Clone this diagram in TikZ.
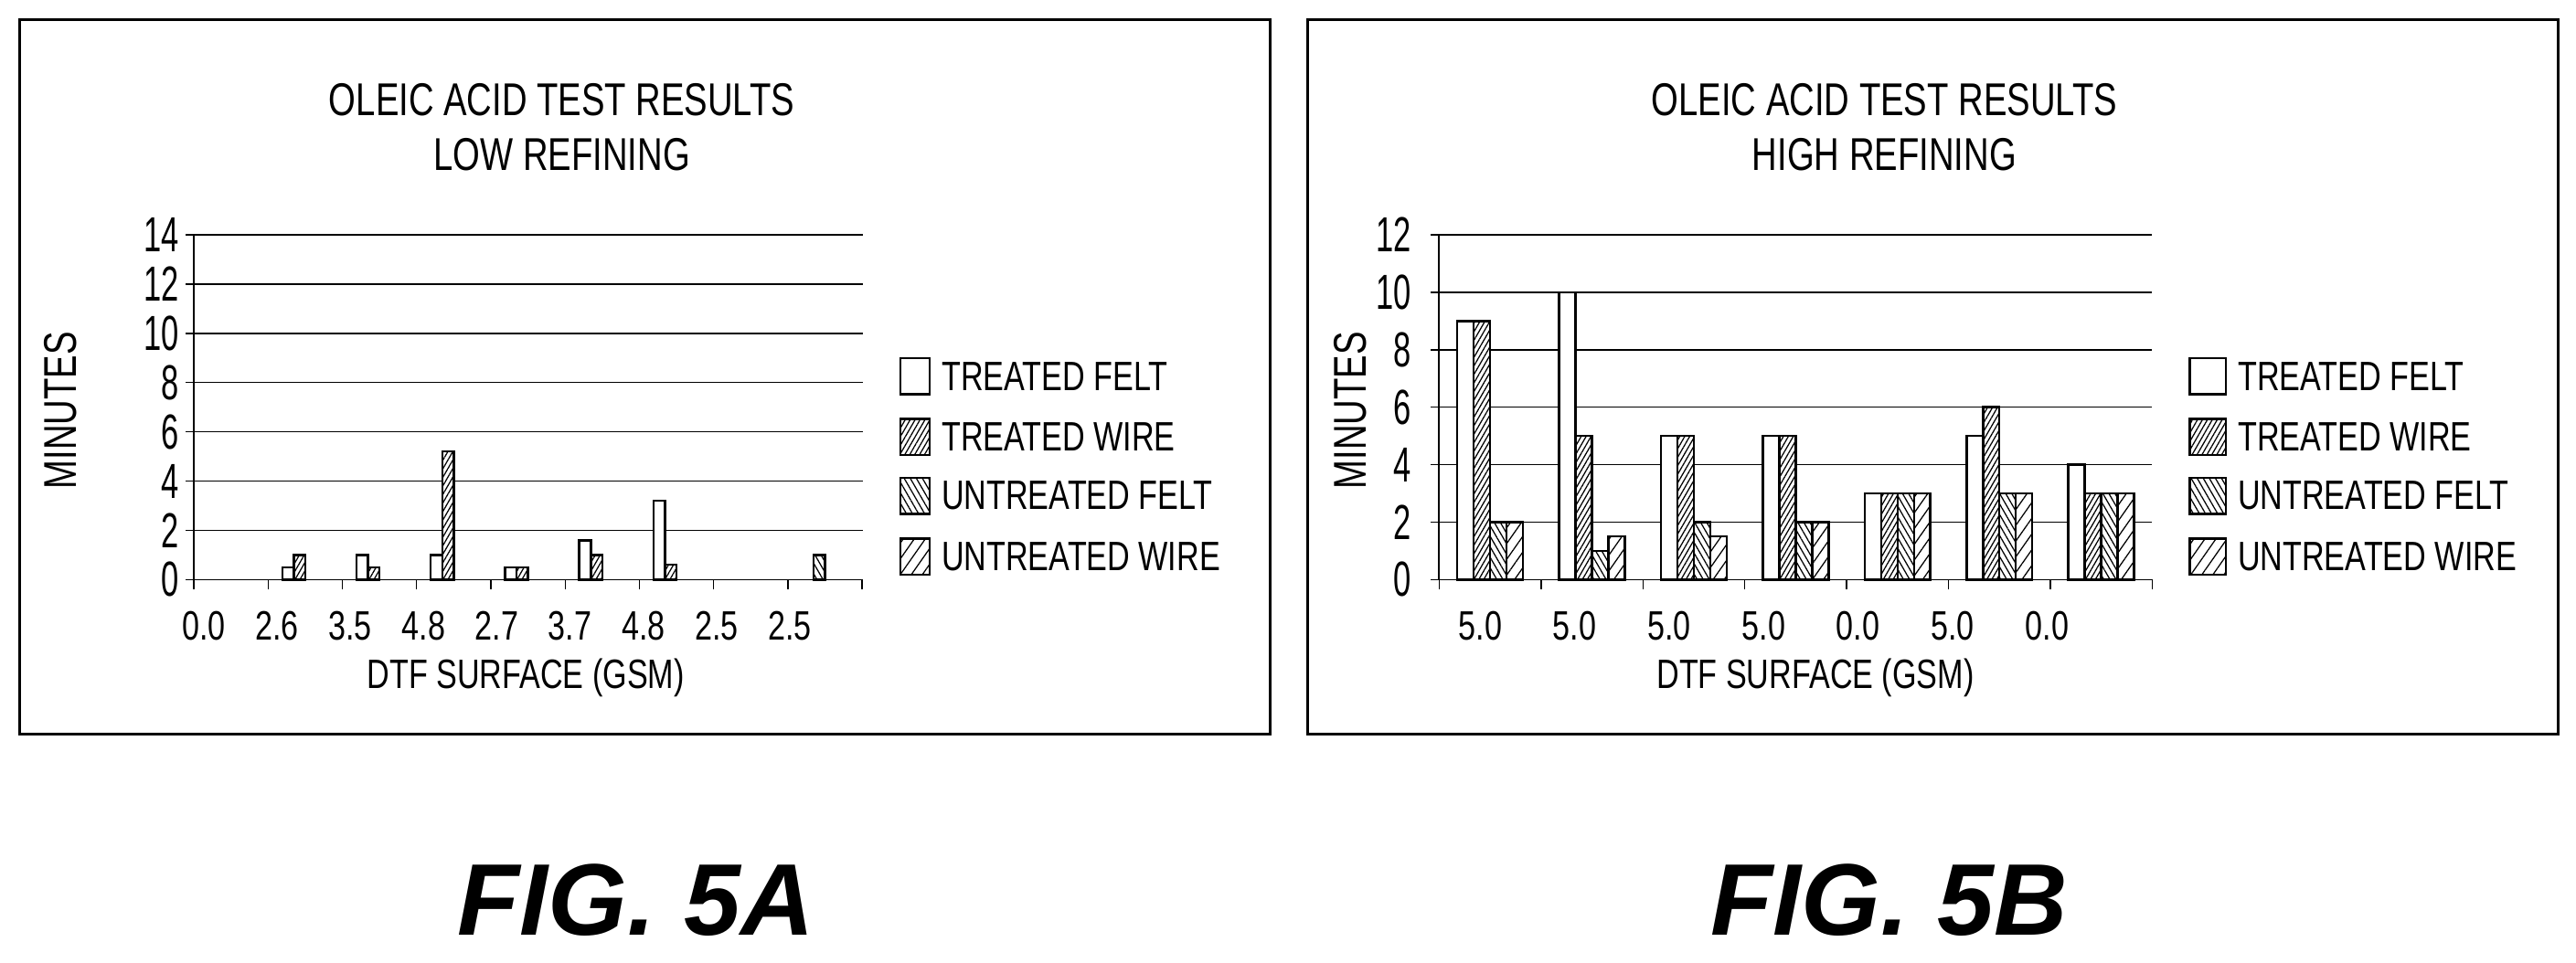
\documentclass[tikz,border=0pt]{standalone}
\usepackage{fontspec}
\setmainfont{Liberation Sans}
\newfontfamily\narrowf{Liberation Sans}[FakeStretch=0.76]
\newfontfamily\tickf{Liberation Sans}[FakeStretch=0.64]
\usetikzlibrary{patterns.meta}
\tikzset{
 panel/.style={draw,line width=1.6pt},
 grid/.style={line width=0.8pt},
 bar/.style={draw,line width=1.4pt,fill=white},
 tw/.style={bar,postaction={pattern={Lines[angle=60,distance=2.6pt,line width=0.7pt]}}},
 uf/.style={bar,postaction={pattern={Lines[angle=-60,distance=3.2pt,line width=0.7pt]}}},
 uw/.style={bar,postaction={pattern={Lines[angle=55,distance=5.5pt,line width=0.7pt]}}},
 txt/.style={font=\narrowf\fontsize{25}{26}\selectfont,inner sep=0pt},
 ttl/.style={font=\narrowf\fontsize{28}{28}\selectfont,inner sep=0pt},
 ylab/.style={font=\narrowf\fontsize{28}{28}\selectfont,inner sep=0pt,rotate=90},
 tick/.style={font=\tickf\fontsize{30}{30}\selectfont,inner sep=0pt,anchor=east},
 fig/.style={font=\bfseries\itshape\fontsize{62}{62}\selectfont,inner sep=0pt}
}
\begin{document}
\begin{tikzpicture}[x=1pt,y=-1pt]
\useasboundingbox (0,0) rectangle (1568,586);
\draw[panel] (12,12) rectangle (773,447);
\draw[panel] (796,12) rectangle (1557,447);
% ---------- left chart
\node[ttl] (tA1) at (342,61) {OLEIC ACID TEST RESULTS};
\node[ttl] (tA2) at (342,94) {LOW REFINING};
\foreach \v in {0,2,...,14}{
  \draw[grid] (113,353-15*\v) -- (525,353-15*\v);
  \node[tick] at (109,353-15*\v) {\v};}
\draw[line width=1pt] (118,143) -- (118,353);
\foreach \k in {0,...,9}{\draw[line width=0.8pt] (118+45.2*\k,353) -- (118+45.2*\k,359);}
\node[ylab] (mA) at (37,250) {MINUTES};
\foreach \l [count=\k from 0] in {0.0,2.6,3.5,4.8,2.7,3.7,4.8,2.5,2.5}{
  \node[txt] at (124+44.6*\k,381) {\l};}
\node[txt] (xA) at (320,413) {DTF SURFACE (GSM)};
\foreach \g/\s/\v in {1/0/0.5,1/1/1.0,2/0/1.0,2/1/0.5,3/0/1.0,3/1/5.2,4/0/0.5,4/1/0.5,5/0/1.6,5/1/1.0,6/0/3.2,6/1/0.6}{
  \pgfmathsetmacro\xa{118+45.2*(\g+0.5)-14+7*\s}
  \ifnum\s=0 \draw[bar] (\xa,353) rectangle (\xa+7,353-15*\v);
  \else \draw[tw] (\xa,353) rectangle (\xa+7,353-15*\v); \fi}
\pgfmathsetmacro\xa{118+45.2*8.5-7}
\draw[uf] (\xa,353) rectangle (\xa+7,338);
\draw[bar] (548,218) rectangle (566,240);
\draw[tw] (548,255) rectangle (566,277);
\draw[uf] (548,291) rectangle (566,313);
\draw[uw] (548,328) rectangle (566,350);
\node[txt,anchor=west] at (573,229) {TREATED FELT};
\node[txt,anchor=west] at (573,266) {TREATED WIRE};
\node[txt,anchor=west] at (573,302) {UNTREATED FELT};
\node[txt,anchor=west] at (573,339) {UNTREATED WIRE};
% ---------- right chart
\node[ttl] (tB1) at (1147,61) {OLEIC ACID TEST RESULTS};
\node[ttl] (tB2) at (1147,94) {HIGH REFINING};
\foreach \v in {0,2,...,12}{
  \draw[grid] (871,353-17.5*\v) -- (1310,353-17.5*\v);
  \node[tick] at (859,353-17.5*\v) {\v};}
\draw[line width=1pt] (876,143) -- (876,353);
\foreach \k in {0,...,7}{\draw[line width=0.8pt] (876+62*\k,353) -- (876+62*\k,359);}
\node[ylab] (mB) at (822,250) {MINUTES};
\foreach \l [count=\k from 0] in {5.0,5.0,5.0,5.0,0.0,5.0,0.0}{
  \node[txt] at (901+57.5*\k,381) {\l};}
\node[txt] (xB) at (1105,413) {DTF SURFACE (GSM)};
\foreach \a/\b/\c/\d [count=\g from 0] in {9/9/2/2,10/5/1/1.5,5/5/2/1.5,5/5/2/2,3/3/3/3,5/6/3/3,4/3/3/3}{
  \pgfmathsetmacro\xa{876+62*(\g+0.5)-20}
  \draw[bar] (\xa,353) rectangle (\xa+10,353-17.5*\a);
  \draw[tw] (\xa+10,353) rectangle (\xa+20,353-17.5*\b);
  \draw[uf] (\xa+20,353) rectangle (\xa+30,353-17.5*\c);
  \draw[uw] (\xa+30,353) rectangle (\xa+40,353-17.5*\d);}
\draw[bar] (1333,218) rectangle (1355,240);
\draw[tw] (1333,255) rectangle (1355,277);
\draw[uf] (1333,291) rectangle (1355,313);
\draw[uw] (1333,328) rectangle (1355,350);
\node[txt,anchor=west] at (1362,229) {TREATED FELT};
\node[txt,anchor=west] at (1362,266) {TREATED WIRE};
\node[txt,anchor=west] at (1362,302) {UNTREATED FELT};
\node[txt,anchor=west] at (1362,339) {UNTREATED WIRE};
\node[fig] (fA) at (387,548) {FIG. 5A};
\node[fig] (fB) at (1150,548) {FIG. 5B};
\end{tikzpicture}
\end{document}
